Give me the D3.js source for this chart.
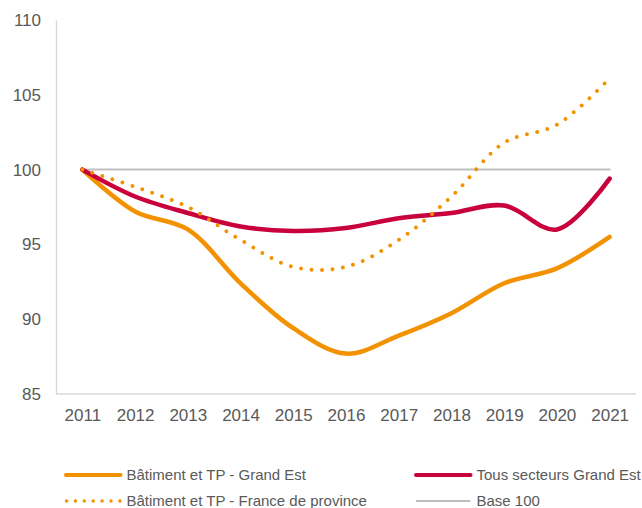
<!DOCTYPE html>
<html>
<head>
  <meta charset="utf-8">
  <title>Indice emploi</title>
  <script src="https://cdn.jsdelivr.net/npm/d3@7"></script>
  <style>
    body { margin: 0; background: #fff; }
    text { font-family: "Liberation Sans", Arial, sans-serif; fill: #595959; }
  </style>
</head>
<body>
  <div id="chart"></div>
  <script>
    // Données
    const annees = ["2011", "2012", "2013", "2014", "2015", "2016", "2017", "2018", "2019", "2020", "2021"];
    const batimentGE = [100, 97.2, 96.0, 92.4, 89.4, 87.7, 88.9, 90.4, 92.4, 93.4, 95.5];
    const tousSecteurs = [100, 98.2, 97.1, 96.2, 95.9, 96.1, 96.75, 97.1, 97.6, 96.0, 99.4];
    const batimentFP = [100, 98.85, 97.5, 95.3, 93.5, 93.5, 95.3, 98.2, 101.8, 103.0, 106.1];
    const base100 = annees.map(() => 100);
    const yTicks = [85, 90, 95, 100, 105, 110];

    const w = 642, h = 508;
    const m = { left: 56, right: 6, top: 20, bottom: 114 };

    const svg = d3.select("#chart").append("svg")
      .attr("width", w)
      .attr("height", h);

    const x = d3.scalePoint().domain(annees).range([m.left, w - m.right]).padding(0.5);
    const y = d3.scaleLinear().domain([85, 110]).range([h - m.bottom, m.top]);

    // axes
    const yAxis = svg.append("g")
      .attr("transform", `translate(${m.left},0)`)
      .call(d3.axisLeft(y).tickValues(yTicks).tickSize(0).tickPadding(15));
    yAxis.select(".domain").attr("stroke", "#d9d9d9").attr("stroke-width", 1.5);
    yAxis.selectAll("text").attr("font-size", 17).attr("fill", "#595959");

    const xAxis = svg.append("g")
      .attr("transform", `translate(0,${h - m.bottom})`)
      .call(d3.axisBottom(x).tickSize(0).tickPadding(15));
    xAxis.select(".domain").attr("stroke", "#d9d9d9").attr("stroke-width", 1.5)
      .attr("d", `M${m.left},0H${w - m.right}`);
    xAxis.selectAll("text").attr("font-size", 17).attr("fill", "#595959");

    const line = d3.line()
      .x((d, i) => x(annees[i]))
      .y(d => y(d))
      .curve(d3.curveCatmullRom.alpha(0.5));

    const series = [
      { nom: "Base 100", values: base100, color: "#bfbfbf", width: 2, dash: null },
      { nom: "Bâtiment et TP - Grand Est", values: batimentGE, color: "#f39200", width: 4.5, dash: null },
      { nom: "Tous secteurs Grand Est", values: tousSecteurs, color: "#c8003c", width: 4.5, dash: null },
      { nom: "Bâtiment et TP - France de province", values: batimentFP, color: "#f39200", width: 4, dash: "0 10.5" }
    ];

    svg.selectAll("path.serie")
      .data(series)
      .enter()
      .append("path")
      .attr("class", "serie")
      .attr("d", d => line(d.values))
      .attr("fill", "none")
      .attr("stroke", d => d.color)
      .attr("stroke-width", d => d.width)
      .attr("stroke-linecap", "round")
      .attr("stroke-dasharray", d => d.dash);

    // légende
    const legende = [
      { s: series[1], lx: 65, ly: 475 },
      { s: series[2], lx: 415, ly: 475 },
      { s: series[3], lx: 65, ly: 501 },
      { s: series[0], lx: 415, ly: 501 }
    ];
    const lg = svg.append("g").attr("class", "legend");
    const item = lg.selectAll("g").data(legende).enter().append("g")
      .attr("transform", d => `translate(${d.lx},${d.ly})`);
    item.append("line")
      .attr("x1", d => d.s.dash ? 1.5 : 1).attr("x2", 55.5)
      .attr("stroke", d => d.s.color)
      .attr("stroke-width", d => d.s.nom === "Base 100" ? 2 : (d.s.dash ? 3.5 : 4))
      .attr("stroke-linecap", d => d.s.nom === "Base 100" ? "butt" : "round")
      .attr("stroke-dasharray", d => d.s.dash ? "0 8.9" : null);
    item.append("text")
      .attr("x", 61.5)
      .attr("dy", "0.35em")
      .attr("font-size", 15)
      .text(d => d.s.nom);
  </script>
</body>
</html>
